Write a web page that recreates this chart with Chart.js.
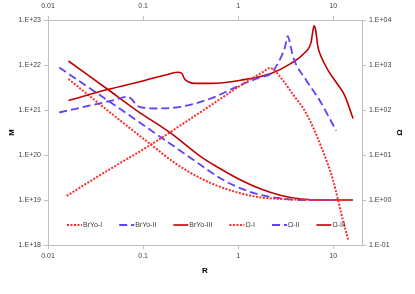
<!DOCTYPE html>
<html>
<head>
<meta charset="utf-8">
<script src="https://cdn.jsdelivr.net/npm/chart.js@4"></script>
<style>
  html, body { margin: 0; padding: 0; background: #fff; }
  #wrap { width: 415px; height: 294px; }
</style>
</head>
<body>
<div id="wrap"><canvas id="chart"></canvas></div>
<script>
// Data (R on log x, M on left log y, Omega on right log y)
const xTicks = [0.01, 0.1, 1, 10];
const mTicks = [1e18, 1e19, 1e20, 1e21, 1e22, 1e23];
const omegaTicks = [0.1, 1, 10, 100, 1000, 10000];

const brYo1R = [0.0157, 0.0354, 0.119, 0.434, 1.25, 1.82, 2.16, 2.5, 2.94, 3.78, 5.18, 7.45, 9.9, 11.2, 12.6, 14.3];
const brYo1M = [1.23e19, 3.6e19, 1.67e20, 1.0e21, 4.4e21, 7.0e21, 8.6e21, 7.0e21, 4.6e21, 2.19e21, 8.45e20, 1.53e20, 2.8e19, 1.0e19, 3.6e18, 1.3e18];

const brYo2R = [0.01315, 0.0278, 0.0511, 0.0692, 0.0771, 0.0871, 0.1057, 0.138, 0.248, 0.514, 1.06, 1.73, 2.21, 2.82, 3.10, 3.32, 3.51, 3.78, 5.18, 7.14, 10.7];
const brYo2M = [8.8e20, 1.26e21, 1.69e21, 1.97e21, 1.67e21, 1.23e21, 1.11e21, 1.08e21, 1.18e21, 1.80e21, 3.59e21, 5.4e21, 6.5e21, 1.5e22, 2.5e22, 4.4e22, 2.9e22, 1.5e22, 4.6e21, 1.67e21, 3.47e20];

const brYo3R = [0.0164, 0.0433, 0.1014, 0.172, 0.229, 0.254, 0.273, 0.301, 0.356, 0.514, 1.06, 2.21, 3.59, 4.93, 5.85, 6.06, 6.28, 6.51, 6.87, 7.45, 8.77, 11.2, 13.1, 16.1];
const brYo3M = [1.63e21, 2.88e21, 4.46e21, 6.0e21, 6.9e21, 6.6e21, 4.9e21, 4.2e21, 3.9e21, 3.9e21, 4.6e21, 6.5e21, 1.09e22, 1.82e22, 3.3e22, 5.4e22, 7.4e22, 6.0e22, 2.55e22, 1.53e22, 7.7e21, 3.6e21, 2.15e21, 6.5e20];

const omega1R = [0.0164, 0.0417, 0.129, 0.219, 0.403, 0.654, 1.06, 1.73, 2.82, 5.0, 9.5, 14.3];
const omega1 = [489, 100, 15.3, 6.5, 3.03, 1.94, 1.41, 1.14, 1.05, 1.01, 1.0, 1.0];

const omega2R = [0.01315, 0.0278, 0.0575, 0.179, 0.403, 0.654, 1.06, 1.73, 2.82, 4.58, 10.7];
const omega2 = [880, 299, 105, 19.8, 6.0, 3.0, 1.82, 1.29, 1.09, 1.0, 1.0];

const omega3R = [0.0164, 0.0433, 0.0865, 0.194, 0.403, 0.654, 1.06, 1.73, 2.82, 4.58, 7.45, 16.1];
const omega3 = [1227, 278, 96, 31, 9.17, 4.89, 2.78, 1.75, 1.26, 1.05, 1.0, 1.0];

const RED_DOT = '#ff2a2a';
const BLUE_DASH = '#6040ff';
const DARK_RED = '#c00000';
const AXIS_GRAY = '#bfbfbf';
const TEXT = '#404040';
const FONT = '"Liberation Sans", Arial, sans-serif';

const pts = (xs, ys) => xs.map((x, i) => ({ x: x, y: ys[i] }));

const expLabel = v => {
  const e = Math.round(Math.log10(v));
  return '1.E' + (e < 0 ? '-' : '+') + String(Math.abs(e)).padStart(2, '0');
};

const setTicks = list => scale => { scale.ticks = list.map(v => ({ value: v })); };

// Legend drawn inside the plot area, Excel style, plus the right axis title
// rotated the same way as the left one
const insideLegend = {
  id: 'insideLegend',
  afterDraw(chart) {
    const { ctx, chartArea } = chart;
    let x = chartArea.left + 19;
    const y = chartArea.bottom - 20;
    ctx.save();
    ctx.font = '7px ' + FONT;
    ctx.textBaseline = 'middle';
    chart.data.datasets.forEach(ds => {
      ctx.strokeStyle = ds.borderColor;
      ctx.lineWidth = ds.borderWidth;
      ctx.setLineDash(ds.borderDash || []);
      ctx.beginPath();
      ctx.moveTo(x, y);
      ctx.lineTo(x + 15, y);
      ctx.stroke();
      ctx.setLineDash([]);
      ctx.fillStyle = TEXT;
      ctx.fillText(ds.label, x + 16, y);
      x += 16 + ctx.measureText(ds.label).width + 17;
    });

    const right = chart.scales.y1;
    ctx.translate(right.right - 15, (chartArea.top + chartArea.bottom) / 2);
    ctx.rotate(-Math.PI / 2);
    ctx.font = 'bold 8px ' + FONT;
    ctx.textAlign = 'center';
    ctx.fillStyle = '#000';
    ctx.fillText('Ω', 0, 0);
    ctx.restore();
  }
};

const line = (label, data, axis, color, width, dash) => ({
  label: label,
  data: data,
  yAxisID: axis,
  borderColor: color,
  backgroundColor: color,
  borderWidth: width,
  borderDash: dash,
  pointRadius: 0,
  fill: false,
  cubicInterpolationMode: 'monotone'
});

const axisGrid = { drawOnChartArea: false, color: AXIS_GRAY, tickLength: 4 };
const axisBorder = { color: AXIS_GRAY };
const tickFont = { family: FONT, size: 7 };
const titleFont = { family: FONT, size: 8, weight: 'bold' };

new Chart(document.getElementById('chart'), {
  type: 'line',
  data: {
    datasets: [
      line('BrYo-I', pts(brYo1R, brYo1M), 'y', RED_DOT, 2, [2, 1.5]),
      line('BrYo-II', pts(brYo2R, brYo2M), 'y', BLUE_DASH, 1.8, [8, 4]),
      line('BrYo-III', pts(brYo3R, brYo3M), 'y', DARK_RED, 1.6, []),
      line('Ω-I', pts(omega1R, omega1), 'y1', RED_DOT, 2, [2, 1.5]),
      line('Ω-II', pts(omega2R, omega2), 'y1', BLUE_DASH, 1.8, [8, 4]),
      line('Ω-III', pts(omega3R, omega3), 'y1', DARK_RED, 1.6, [])
    ]
  },
  options: {
    responsive: true,
    maintainAspectRatio: false,
    animation: false,
    layout: { padding: 0 },
    plugins: {
      legend: { display: false },
      tooltip: { enabled: false }
    },
    scales: {
      x: {
        type: 'logarithmic',
        position: 'bottom',
        min: 0.01,
        max: 20,
        afterBuildTicks: setTicks(xTicks),
        afterFit: s => { s.height = 49; },
        grid: axisGrid,
        border: axisBorder,
        ticks: { font: tickFont, color: TEXT, padding: 3, maxRotation: 0, autoSkip: false, callback: v => String(v) },
        title: { display: true, text: 'R', font: titleFont, color: '#000', padding: { top: 0, bottom: 18 } }
      },
      x2: {
        type: 'logarithmic',
        position: 'top',
        min: 0.01,
        max: 20,
        afterBuildTicks: setTicks(xTicks),
        afterFit: s => { s.height = 20; },
        grid: axisGrid,
        border: axisBorder,
        ticks: { font: tickFont, color: TEXT, padding: 6, maxRotation: 0, autoSkip: false, callback: v => String(v) }
      },
      y: {
        type: 'logarithmic',
        position: 'left',
        min: 1e18,
        max: 1e23,
        afterBuildTicks: setTicks(mTicks),
        afterFit: s => { s.width = 48; },
        grid: axisGrid,
        border: axisBorder,
        ticks: { font: tickFont, color: TEXT, padding: 3, autoSkip: false, callback: expLabel },
        title: { display: true, text: 'M', font: titleFont, color: '#000', padding: { top: 7, bottom: 0 } }
      },
      y1: {
        type: 'logarithmic',
        position: 'right',
        min: 0.1,
        max: 10000,
        afterBuildTicks: setTicks(omegaTicks),
        afterFit: s => { s.width = 53; },
        grid: axisGrid,
        border: axisBorder,
        ticks: { font: tickFont, color: TEXT, padding: 3, autoSkip: false, callback: expLabel }
      }
    }
  },
  plugins: [insideLegend]
});
</script>
</body>
</html>
